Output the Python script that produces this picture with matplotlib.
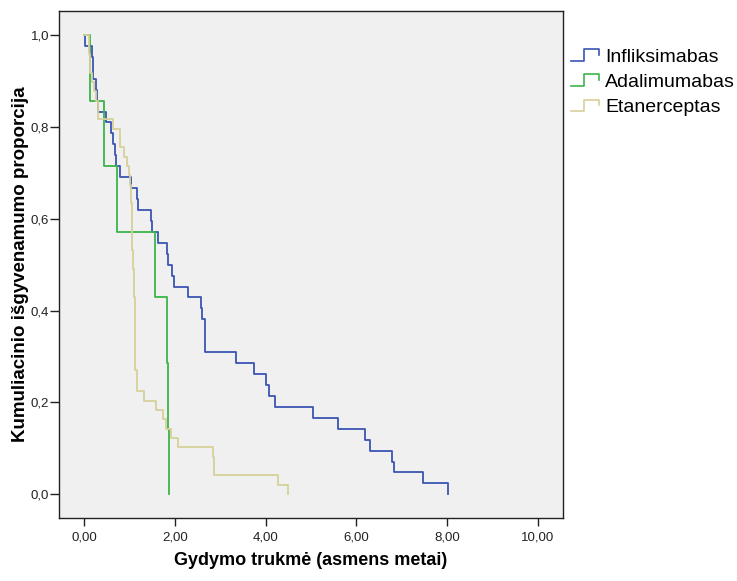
import matplotlib
matplotlib.use('Agg')
import matplotlib.pyplot as plt
from matplotlib.lines import Line2D
from matplotlib.legend_handler import HandlerBase
from matplotlib.ticker import FuncFormatter

plt.rcParams['font.family'] = ['Liberation Sans', 'DejaVu Sans']

# ---- data ----
infl_t = [0.0, 0.015, 0.16, 0.185, 0.20, 0.265, 0.287, 0.31, 0.478, 0.58, 0.64, 0.677, 0.70,
          0.787, 1.03, 1.155, 1.177, 1.464, 1.486, 1.63, 1.82, 1.85, 1.94, 1.98, 2.29, 2.57,
          2.60, 2.655, 2.66, 3.35, 3.75, 4.01, 4.08, 4.20, 5.04, 5.59, 6.20, 6.31, 6.78, 6.83,
          7.48, 8.02]
infl_s = [1.0, 0.976, 0.952, 0.929, 0.905, 0.881, 0.857, 0.833, 0.810, 0.786, 0.762, 0.738, 0.714,
          0.690, 0.667, 0.643, 0.619, 0.595, 0.571, 0.548, 0.524, 0.500, 0.476, 0.452, 0.429, 0.405,
          0.381, 0.357, 0.310, 0.286, 0.262, 0.238, 0.214, 0.190, 0.167, 0.143, 0.119, 0.095, 0.071,
          0.048, 0.024, 0.0]

adal_t = [0.0, 0.126, 0.44, 0.71, 1.56, 1.83, 1.85, 1.875]
adal_s = [1.0, 0.857, 0.714, 0.571, 0.429, 0.286, 0.143, 0.0]

etan_t = [0.0, 0.10, 0.12, 0.17, 0.21, 0.26, 0.30, 0.64, 0.787, 0.875, 0.93, 0.985, 1.00, 1.02,
          1.05, 1.067, 1.10, 1.11, 1.12, 1.155, 1.17, 1.32, 1.58, 1.74, 1.79, 1.91, 2.07, 2.845,
          2.87, 4.28, 4.50]
etan_s = [1.0, 0.959, 0.918, 0.898, 0.878, 0.857, 0.816, 0.796, 0.755, 0.735, 0.714, 0.694, 0.673,
          0.633, 0.531, 0.490, 0.429, 0.347, 0.270, 0.245, 0.224, 0.204, 0.184, 0.163, 0.143, 0.122,
          0.102, 0.082, 0.041, 0.020, 0.0]

labels = ['Infliksimabas', 'Adalimumabas', 'Etanerceptas']
colors = ['#3b55b3', '#3cb54a', '#d6d199']

x_ticks = [0, 2, 4, 6, 8, 10]
y_ticks = [0.0, 0.2, 0.4, 0.6, 0.8, 1.0]

# ---- figure ----
W, H = 737, 581
fig = plt.figure(figsize=(W / 100, H / 100), dpi=100)
ax = fig.add_axes([59 / W, 1 - 518 / H, (563 - 59) / W, (518 - 11) / H])
ax.set_facecolor('#f0f0f0')

series = [(infl_t, infl_s), (adal_t, adal_s), (etan_t, etan_s)]
handles = []
for (t, s), c, lab in zip(series, colors, labels):
    h, = ax.step(t, s, where='post', color=c, lw=1.3, label=lab)
    handles.append(h)

ax.set_xlim(-0.56, 10.56)
ax.set_ylim(-0.0516, 1.052)
ax.set_xticks(x_ticks)
ax.set_yticks(y_ticks)
ax.xaxis.set_major_formatter(FuncFormatter(lambda v, p: f"{v:.2f}".replace('.', ',')))
ax.yaxis.set_major_formatter(FuncFormatter(lambda v, p: f"{v:.1f}".replace('.', ',')))
ax.tick_params(axis='x', direction='out', length=6, width=1, labelsize=9.5, pad=4, colors='#222222')
ax.tick_params(axis='y', direction='out', length=6.5, width=1, labelsize=9.5, pad=0.5, colors='#222222')
for sp in ax.spines.values():
    sp.set_color('#222222')
    sp.set_linewidth(1.0)

ax.set_xlabel('Gydymo trukmė (asmens metai)', fontsize=13, fontweight='bold', labelpad=6)
ax.set_ylabel('Kumuliacinio išgyvenamumo proporcija', fontsize=13.5, fontweight='bold')
ax.yaxis.set_label_coords((29 - 59) / (563 - 59), 0.5)


class StepHandler(HandlerBase):
    def create_artists(self, legend, orig_handle, xdescent, ydescent, width, height, fontsize, trans):
        xs = [0.0, 0.45, 0.45, 1.0, 1.0]
        ys = [0.0, 0.0, 1.0, 1.0, 0.5]
        line = Line2D([-xdescent + x * width for x in xs],
                      [-ydescent + y * height for y in ys],
                      color=orig_handle.get_color(), lw=1.2, transform=trans)
        return [line]


fig.legend(handles, labels, loc='upper left', bbox_to_anchor=(571 / W, 1 - 49 / H),
           frameon=False, handlelength=1.45, handleheight=0.55, handletextpad=0.3,
           labelspacing=0.42, fontsize=14, borderaxespad=0, borderpad=0,
           handler_map={Line2D: StepHandler()})

fig.savefig('out.png', dpi=100, facecolor='white')
